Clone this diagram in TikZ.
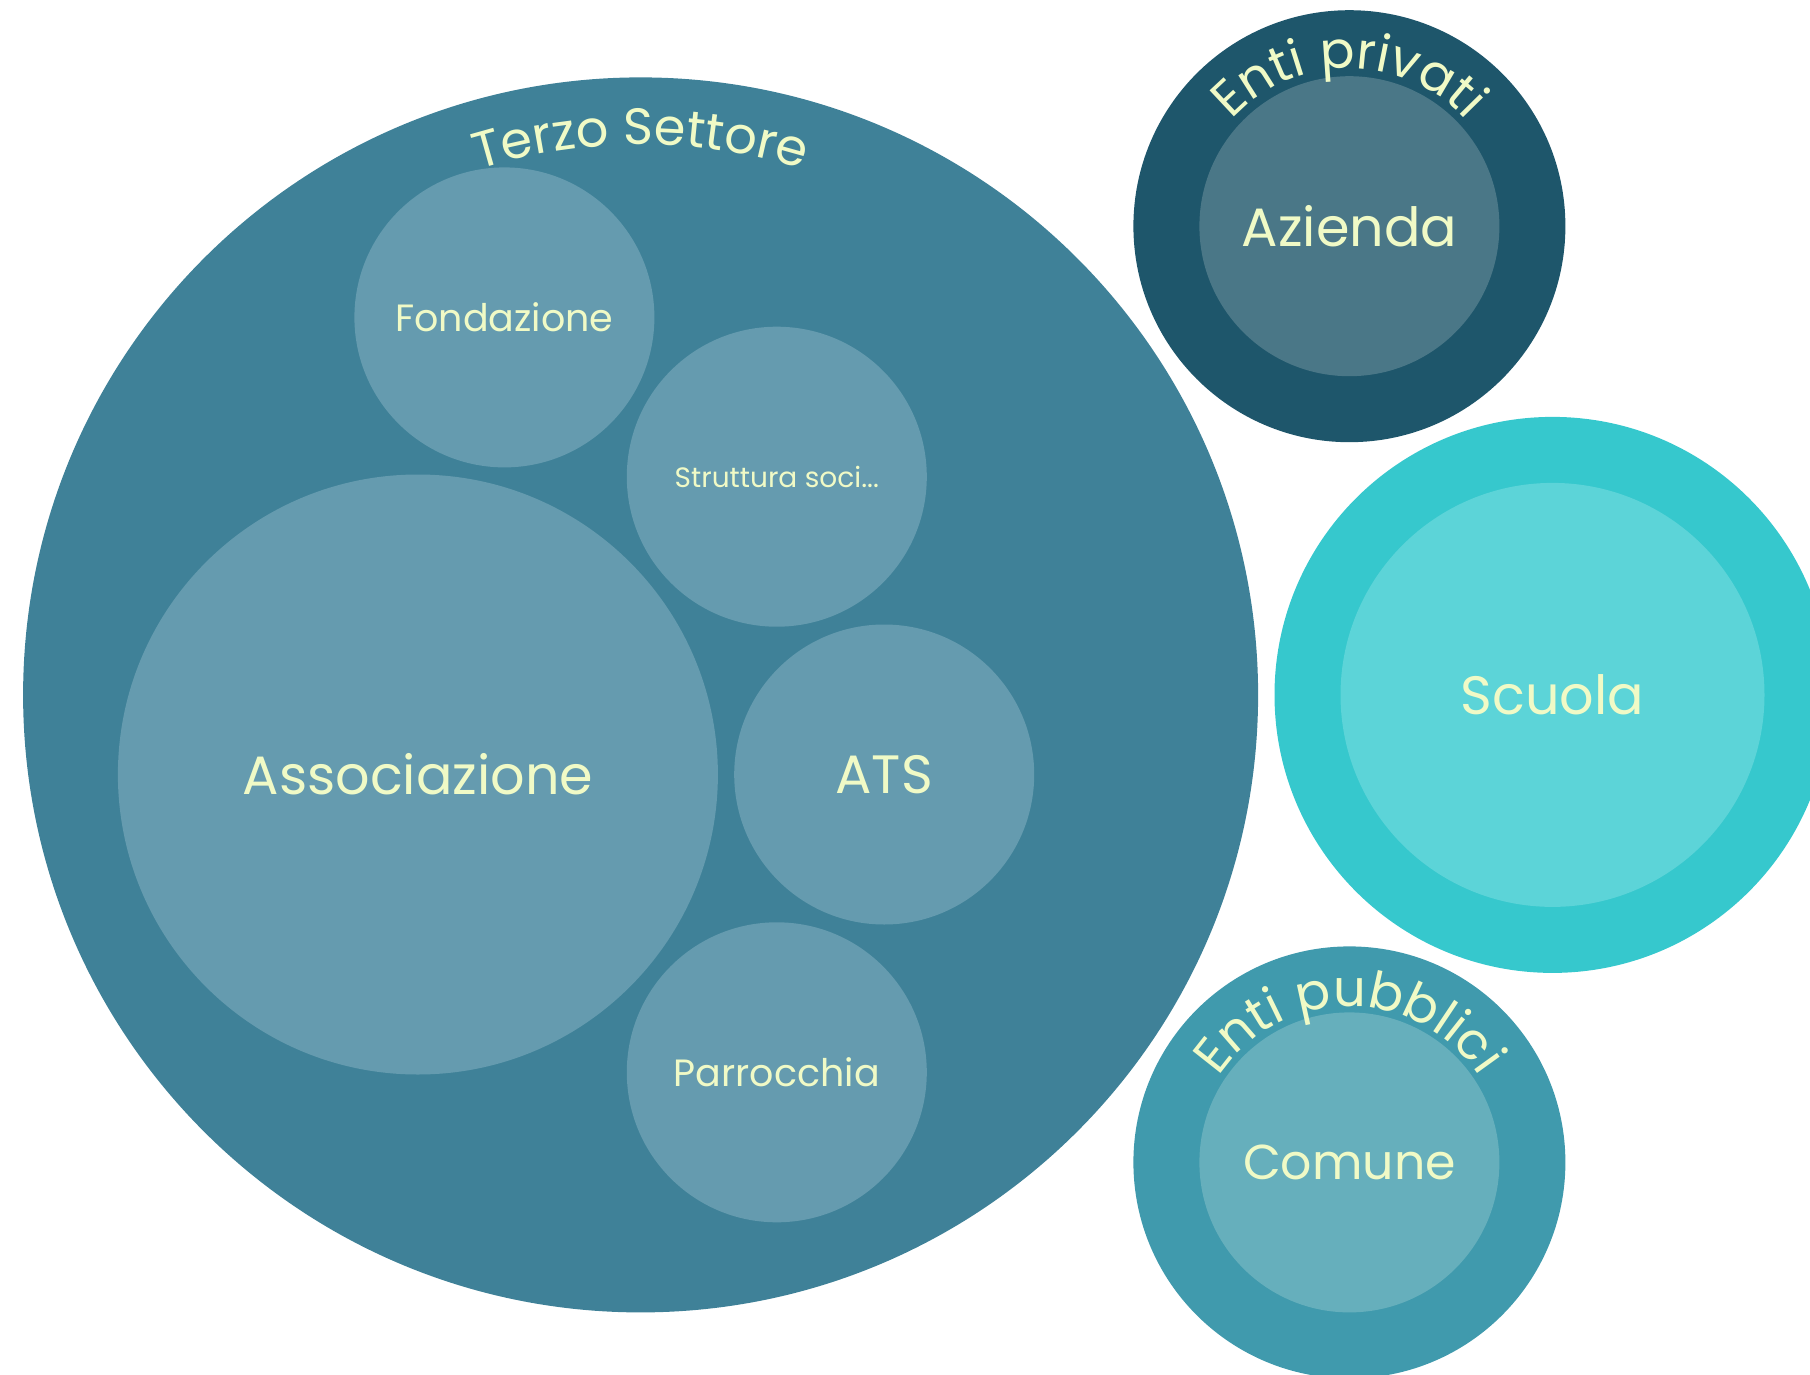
\documentclass[tikz,border=0pt]{standalone}
\usepackage{fontspec}
\setmainfont{Poppins}
\usetikzlibrary{decorations.text}

\definecolor{terzo}{HTML}{3F8198}
\definecolor{terzoin}{HTML}{659BAF}
\definecolor{privati}{HTML}{1E566B}
\definecolor{privatiin}{HTML}{4A7787}
\definecolor{scuola}{HTML}{36C8CD}
\definecolor{scuolain}{HTML}{5CD4D8}
\definecolor{pubblici}{HTML}{409AAD}
\definecolor{pubbliciin}{HTML}{66AFBC}
\definecolor{labeltext}{HTML}{F0FAC6}

\newcommand{\bigfont}{\fontsize{54}{54}\selectfont}
\newcommand{\midfont}{\fontsize{38}{38}\selectfont}
\newcommand{\smallfont}{\fontsize{28}{28}\selectfont}
\newcommand{\arcfont}{\fontsize{51}{51}\selectfont\color{labeltext}}

\tikzset{
  bubble/.style = {circle, inner sep=0pt, text=labeltext},
  arclabel/.style = {decorate, decoration={text along path, text align=center, text={|\arcfont|#1}}}
}

\begin{document}
\begin{tikzpicture}[x=1pt,y=1pt]
  \useasboundingbox (0,0) rectangle (1810,-1375);
  \clip (0,0) rectangle (1810,-1375);

  % Terzo Settore
  \node [bubble, fill=terzo, minimum size=1235] (terzo) at (640.6,-694.9) {};
  \node [bubble, fill=terzoin, minimum size=300, font=\midfont]   (fond)   at (504.4,-317.4)  {Fondazione};
  \node [bubble, fill=terzoin, minimum size=300, font=\smallfont] (strutt) at (776.8,-476.7)  {Struttura soci...};
  \node [bubble, fill=terzoin, minimum size=600, font=\bigfont]   (assoc)  at (417.9,-774.5)  {Associazione};
  \node [bubble, fill=terzoin, minimum size=300, font=\bigfont]   (ats)    at (884.2,-774.5)  {ATS};
  \node [bubble, fill=terzoin, minimum size=300, font=\midfont]   (parr)   at (776.8,-1072.3) {Parrocchia};
  \path [arclabel=Terzo Settore] (terzo.center) ++(130:550) arc [start angle=130, end angle=50, radius=550];

  % Enti privati
  \node [bubble, fill=privati, minimum size=432] (privati) at (1349.4,-226.2) {};
  \node [bubble, fill=privatiin, minimum size=300, font=\bigfont] (azienda) at (privati) {Azienda};
  \path [arclabel=Enti privati] (privati.center) ++(175:158) arc [start angle=175, end angle=5, radius=158];

  % Scuola
  \node [bubble, fill=scuola, minimum size=556] (scuolaout) at (1552.5,-694.9) {};
  \node [bubble, fill=scuolain, minimum size=424, font=\bigfont] (scuola) at (scuolaout) {Scuola};

  % Enti pubblici
  \node [bubble, fill=pubblici, minimum size=432] (pubblici) at (1349.4,-1162.4) {};
  \node [bubble, fill=pubbliciin, minimum size=300, font=\fontsize{49}{49}\selectfont] (comune) at (pubblici) {Comune};
  \path [arclabel=Enti pubblici] (pubblici.center) ++(175:156) arc [start angle=175, end angle=5, radius=156];
\end{tikzpicture}
\end{document}
